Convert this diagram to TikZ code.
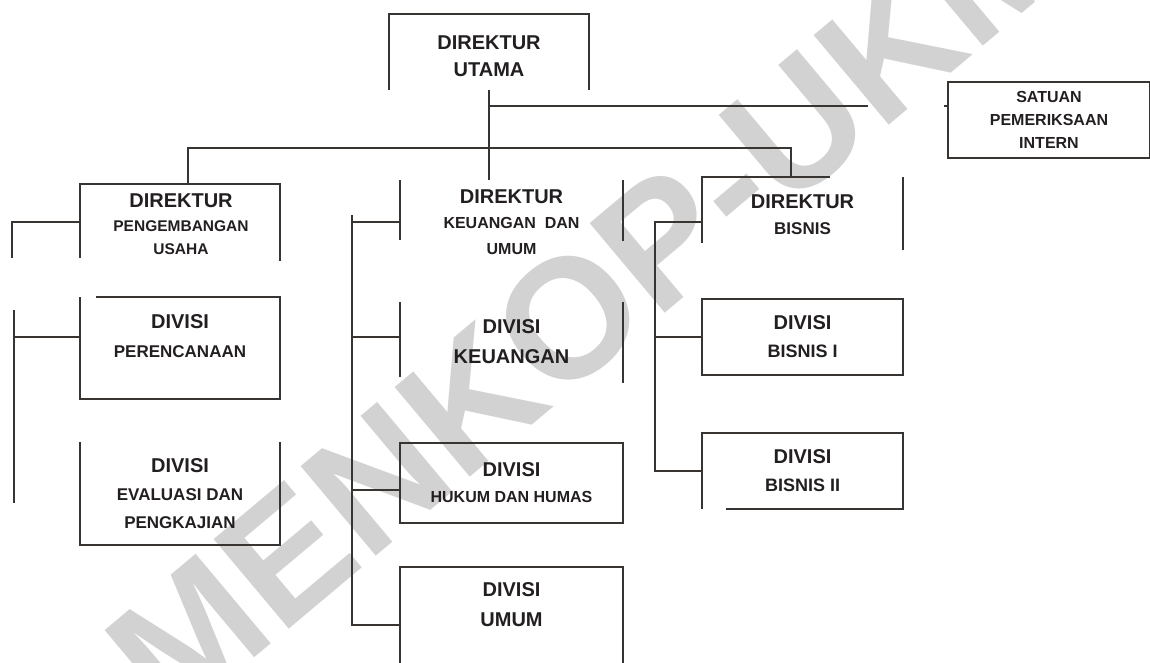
\documentclass[tikz,border=0pt]{standalone}
\usepackage{fontspec}
\setmainfont{Liberation Sans}
\usetikzlibrary{positioning,calc}
\definecolor{ink}{RGB}{35,31,32}
\definecolor{rule}{RGB}{55,52,50}
\definecolor{wmgray}{RGB}{210,210,210}
% size of one text line
\newcommand\fTxt[1]{\fontsize{#1}{#1}\selectfont\bfseries}
\tikzset{
  orgbox/.style={inner sep=0pt,align=center,text=ink,font=\fontsize{20}{#1}\selectfont\bfseries},
  orgbox/.default=27,
  wire/.style={draw=rule,line width=2pt},
  wm/.style={text=wmgray,inner sep=0pt,font=\fontsize{170}{170}\selectfont\bfseries}
}

\begin{document}
\begin{tikzpicture}[x=1pt,y=-1pt]
  \useasboundingbox (0,0) rectangle (1150,663);
  \node[wm,rotate=40] (wmark) at (590,300) {MENKOP-UKM};

  % top level
  \node[orgbox=27,minimum width=200,minimum height=85] (utama) at (489,56.5) {\fTxt{20}DIREKTUR\\\fTxt{20}UTAMA};
  \node[orgbox=23,minimum width=202,minimum height=76] (spi) at (1049,120) {\fTxt{16}SATUAN\\\fTxt{16}PEMERIKSAAN\\\fTxt{16}INTERN};

  % directors
  \node[orgbox=23.5,minimum width=200,minimum height=81] (dpu) at (181,224.5) {\fTxt{20}DIREKTUR\\\fTxt{15.5}PENGEMBANGAN\\\fTxt{15.5}USAHA};
  \node[orgbox=25.5,minimum width=223,minimum height=84] (dkeu) at (511.5,222) {\fTxt{20}DIREKTUR\\\fTxt{16}KEUANGAN\ \ DAN\\\fTxt{16}UMUM};
  \node[orgbox=26,minimum width=201,minimum height=76] (dbis) at (802.5,215) {\fTxt{20}DIREKTUR\\\fTxt{17}BISNIS};

  % divisions
  \node[orgbox=29,minimum width=200,minimum height=79] (dper) at (180,336.5) {\fTxt{20}DIVISI\\\fTxt{17}PERENCANAAN};
  \node[orgbox=28,minimum width=200,minimum height=103] (deval) at (180,493.5) {\fTxt{20}DIVISI\\\fTxt{17}EVALUASI DAN\\\fTxt{17}PENGKAJIAN};
  \node[orgbox=30,minimum width=223,minimum height=80] (divkeu) at (511.5,342) {\fTxt{20}DIVISI\\\fTxt{20}KEUANGAN};
  \node[orgbox=26,minimum width=223,minimum height=80] (dhum) at (511.5,483) {\fTxt{20}DIVISI\\\fTxt{16}HUKUM DAN HUMAS};
  \node[orgbox=30,minimum width=223,minimum height=76] (dumum) at (511.5,605) {\fTxt{20}DIVISI\\\fTxt{20}UMUM};
  \node[orgbox=28,minimum width=201,minimum height=76] (dbis1) at (802.5,337) {\fTxt{20}DIVISI\\\fTxt{18}BISNIS I};
  \node[orgbox=28,minimum width=201,minimum height=76] (dbis2) at (802.5,471) {\fTxt{20}DIVISI\\\fTxt{18}BISNIS II};

  % box outlines (partly open, as in the scan)
  \draw[wire] (utama.north west) ++(0,76) -- ++(0,-76) -- (utama.north east) -- ++(0,76);
  \draw[wire] (spi.north west) rectangle (spi.south east);
  \draw[wire] ([xshift=-1pt]dpu.north west) ++(0,74) -- ++(0,-74) -- ([xshift=-1pt]dpu.north east) -- ++(0,77);
  \draw[wire] (dkeu.north west) -- ++(0,60);
  \draw[wire] (dkeu.north east) -- ++(0,61);
  \draw[wire] (dbis.north west) ++(0,66) -- ++(0,-66) -- ++(128,0);
  \draw[wire] (dbis.north east) -- ++(0,73);
  \draw[wire] (dper.north west) ++(16,0) -- (dper.north east) -- ++(0,102) -| (dper.north west);
  \draw[wire] (deval.north west) -- (deval.south west) -- (deval.south east) -- (deval.north east);
  \draw[wire] (divkeu.north west) -- ++(0,75);
  \draw[wire] (divkeu.north east) -- ++(0,81);
  \draw[wire] (dhum.north west) rectangle (dhum.south east);
  \draw[wire] (dumum.north west) ++(0,110) -- ++(0,-110) -- (dumum.north east) -- ++(0,110);
  \draw[wire] (dbis1.north west) rectangle (dbis1.south east);
  \draw[wire] ($(dbis2.south west)+(24,0)$) -- (dbis2.south east) -- (dbis2.north east) -- (dbis2.north west) -- (dbis2.south west);

  % top lines
  \coordinate (spiend) at (868,106);
  \coordinate (bus) at (0,148);
  \draw[wire] (utama.north) ++(0,76) -- (utama.north |- dkeu.north);
  \draw[wire] (utama.north |- spiend) -- (spiend);
  \draw[wire] (spi.west |- spiend) -- ++(-4,0);
  \draw[wire] ([xshift=7pt]dpu.north) -- ([xshift=7pt]dpu.north |- bus) -| ([xshift=-12pt]dbis.north);

  % left column
  \coordinate (lstub) at (12,258);
  \coordinate (la) at (14,310);
  \coordinate (lb) at (14,503);
  \draw[wire] ([xshift=-1pt,yshift=2.5pt]dpu.west) -| (lstub);
  \draw[wire] (la) -- (lb);
  \draw[wire] (dper.west) -- (dper.west -| la);

  % middle column
  \coordinate (cbus) at (352,215);
  \coordinate (tkeu) at ($(divkeu.west)+(0,-5)$);
  \coordinate (thum) at ($(dhum.west)+(0,7)$);
  \draw[wire] (cbus) |- ([yshift=-20pt]dumum.west);
  \draw[wire] (cbus |- dkeu.west) -- (dkeu.west);
  \draw[wire] (cbus |- tkeu) -- (tkeu);
  \draw[wire] (cbus |- thum) -- (thum);

  % right column
  \coordinate (rbus) at (655,222);
  \coordinate (tbis) at ($(dbis.west)+(0,7)$);
  \draw[wire] (tbis) -| (rbus |- dbis2.west) -- (dbis2.west);
  \draw[wire] (rbus |- dbis1.west) -- (dbis1.west);
\end{tikzpicture}
\end{document}
